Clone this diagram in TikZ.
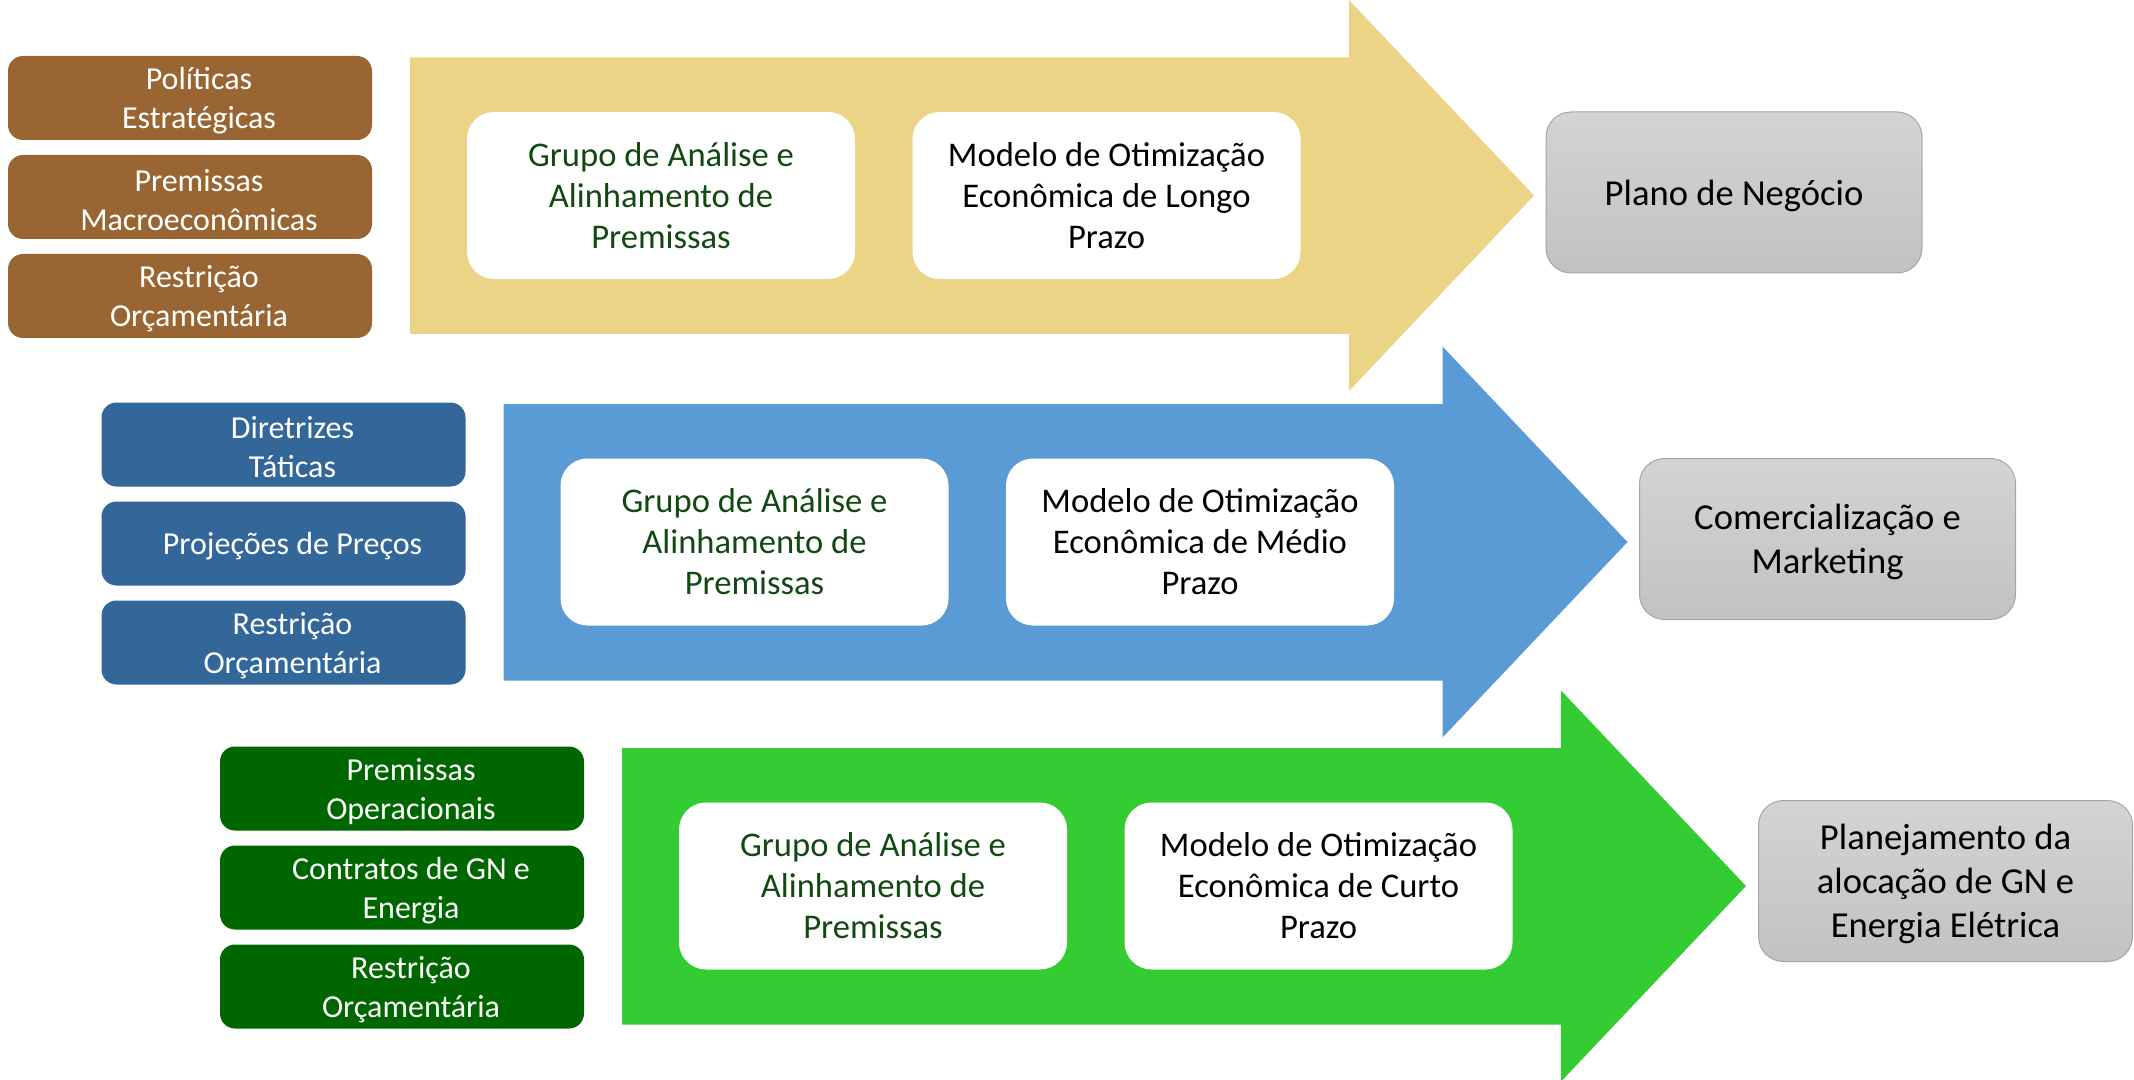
\documentclass[tikz,border=0pt]{standalone}
\usepackage{fontspec}
\setmainfont{Carlito}
\definecolor{brownbox}{RGB}{153,102,51}
\definecolor{bluebox}{RGB}{51,102,153}
\definecolor{greenbox}{RGB}{0,102,0}
\definecolor{longarrow}{RGB}{235,212,134}
\definecolor{midarrow}{RGB}{91,155,213}
\definecolor{shortarrow}{RGB}{51,204,51}
\definecolor{grupotext}{RGB}{18,72,18}
\definecolor{grayedge}{RGB}{165,165,165}
\begin{document}
\begin{tikzpicture}[x=0.5pt, y=-0.5pt,
    inputbox/.style={rounded corners=7.5pt, minimum width=182pt, minimum height=42pt, inner sep=0pt},
    inputtext/.style={align=center, text=white, inner sep=0pt, xshift=4.5pt, yshift=-1.5pt,
      font=\fontsize{16}{19.5}\selectfont},
    stagebox/.style={fill=white, rounded corners=13.5pt, minimum width=194pt, minimum height=83.5pt,
      inner sep=0pt, align=center, font=\fontsize{17.3}{20.5}\selectfont},
    resultbox/.style={draw=grayedge, line width=0.5pt, top color=black!17, bottom color=black!24,
      rounded corners=12.5pt, minimum width=188pt, minimum height=80.5pt, inner sep=0pt},
    resulttext/.style={align=center, inner sep=0pt, yshift=-1.5pt, font=\fontsize{18.3}{22}\selectfont}]
  \useasboundingbox (0,0) rectangle (2134,1080);

  % longo prazo
  \fill[longarrow] (410,57.5) -- (1349,57.5) -- (1349,0) -- (1534,195.5) -- (1349,391) -- (1349,334) -- (410,334) -- cycle;
  \node[inputbox, fill=brownbox, label={[inputtext]center:Políticas\\Estratégicas}] (politicas) at (190,98) {};
  \node[inputbox, fill=brownbox, label={[inputtext]center:Premissas\\Macroeconômicas}] (macro) at (190,197) {};
  \node[inputbox, fill=brownbox, label={[inputtext]center:Restrição\\Orçamentária}] (orcLongo) at (190,296) {};
  \node[stagebox, text=grupotext] (grupoLongo) at (661,195.5) {Grupo de Análise e\\Alinhamento de\\Premissas};
  \node[stagebox] (modeloLongo) at (1106.5,195.5) {Modelo de Otimização\\Econômica de Longo\\Prazo};
  \node[resultbox, label={[resulttext]center:Plano de Negócio}] (plano) at (1734,192.5) {};

  % medio prazo
  \begin{scope}[shift={(93.5,346.5)}]
    \fill[midarrow] (410,57.5) -- (1349,57.5) -- (1349,0) -- (1534,195.5) -- (1349,391) -- (1349,334) -- (410,334) -- cycle;
    \node[inputbox, fill=bluebox, label={[inputtext]center:Diretrizes\\Táticas}] (diretrizes) at (190,98) {};
    \node[inputbox, fill=bluebox, label={[inputtext]center:Projeções de Preços}] (precos) at (190,197) {};
    \node[inputbox, fill=bluebox, label={[inputtext]center:Restrição\\Orçamentária}] (orcMedio) at (190,296) {};
    \node[stagebox, text=grupotext] (grupoMedio) at (661,195.5) {Grupo de Análise e\\Alinhamento de\\Premissas};
    \node[stagebox] (modeloMedio) at (1106.5,195.5) {Modelo de Otimização\\Econômica de Médio\\Prazo};
    \node[resultbox, label={[resulttext]center:Comercialização e\\Marketing}] (comercial) at (1734,192.5) {};
  \end{scope}

  % curto prazo
  \begin{scope}[shift={(212,690.5)}]
    \fill[shortarrow] (410,57.5) -- (1349,57.5) -- (1349,0) -- (1534,195.5) -- (1349,391) -- (1349,334) -- (410,334) -- cycle;
    \node[inputbox, fill=greenbox, label={[inputtext]center:Premissas\\Operacionais}] (operacionais) at (190,98) {};
    \node[inputbox, fill=greenbox, label={[inputtext]center:Contratos de GN e\\Energia}] (contratos) at (190,197) {};
    \node[inputbox, fill=greenbox, label={[inputtext]center:Restrição\\Orçamentária}] (orcCurto) at (190,296) {};
    \node[stagebox, text=grupotext] (grupoCurto) at (661,195.5) {Grupo de Análise e\\Alinhamento de\\Premissas};
    \node[stagebox] (modeloCurto) at (1106.5,195.5) {Modelo de Otimização\\Econômica de Curto\\Prazo};
    \node[resultbox, minimum width=187pt, label={[resulttext]center:Planejamento da\\alocação de GN e\\Energia Elétrica}] (alocacao) at (1733.5,190.5) {};
  \end{scope}
\end{tikzpicture}
\end{document}
